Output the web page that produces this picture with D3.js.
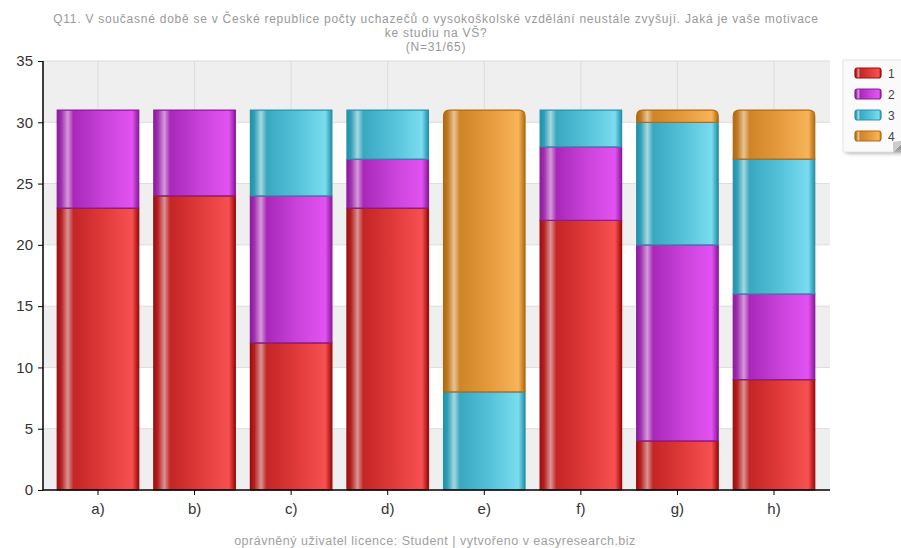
<!DOCTYPE html>
<html><head><meta charset="utf-8">
<script src="https://cdn.jsdelivr.net/npm/d3@7"></script>
<style>body{margin:0;background:#fff}svg{display:block;font-family:Arial,"Liberation Sans",sans-serif}</style>
</head><body>
<svg id="c" width="901" height="548"></svg>
<script>
const titleLines = ["Q11. V současné době se v České republice počty uchazečů o vysokoškolské vzdělání neustále zvyšují. Jaká je vaše motivace","ke studiu na VŠ?","(N=31/65)"];
const footer = "oprávněný uživatel licence: Student | vytvořeno v easyresearch.biz";
const categories = ["a)","b)","c)","d)","e)","f)","g)","h)"];
const seriesNames = ["1","2","3","4"];
const s1 = [23,24,12,23,0,22,4,9];
const s2 = [8,7,12,4,0,6,16,7];
const s3 = [0,0,7,4,8,3,10,11];
const s4 = [0,0,0,0,23,0,1,4];
const yTicks = [0,5,10,15,20,25,30,35];

const palettes = [
  {stops:["#9e1010","#b82020","#d89494","#c42525","#e23c3c","#f65050","#a00808"], stroke:"#9a0c0c"},
  {stops:["#8a1c9a","#a030b0","#d49ad8","#a828b8","#cc44dc","#e252f2","#8a1a9a"], stroke:"#8a1a9a"},
  {stops:["#2090a8","#30a0b8","#a8d8e0","#38a8c0","#58c4dc","#7adcee","#2090a8"], stroke:"#2a92aa"},
  {stops:["#b06810","#c07a20","#e8c498","#d08428","#e89c40","#f8b458","#b06a10"], stroke:"#b06c14"}
];
const offs = ["0%","5%","13%","20%","60%","92%","100%"];

const svg = d3.select("#c");
const defs = svg.append("defs");
palettes.forEach((p,i)=>{
  const g = defs.append("linearGradient").attr("id","g"+i).attr("x1","0").attr("x2","1").attr("y1","0").attr("y2","0");
  p.stops.forEach((c,j)=>g.append("stop").attr("offset",offs[j]).attr("stop-color",c));
});
const f = defs.append("filter").attr("id","sh").attr("x","-20%").attr("y","-20%").attr("width","150%").attr("height","150%");
f.append("feGaussianBlur").attr("stdDeviation",2);

const pL=43, pR=830, pT=61, pB=490;
const y = d3.scaleLinear().domain([0,35]).range([pB,pT]);
const x = d3.scaleBand().domain(categories).range([49.7,822.3]).paddingInner(0.156).paddingOuter(0.078);

// background bands
for(let i=0;i<yTicks.length-1;i++){
  svg.append("rect").attr("x",pL).attr("width",pR-pL)
    .attr("y",y(yTicks[i+1])).attr("height",y(yTicks[i])-y(yTicks[i+1]))
    .attr("fill", i%2===0 ? "#efefef" : "#ffffff");
}
// grid
svg.append("g").selectAll("line").data(yTicks.slice(1)).join("line")
  .attr("x1",pL).attr("x2",pR).attr("y1",d=>y(d)).attr("y2",d=>y(d))
  .attr("stroke","#dcdcdc").attr("stroke-width",1);
svg.append("g").selectAll("line").data(categories).join("line")
  .attr("x1",d=>x(d)+x.bandwidth()/2).attr("x2",d=>x(d)+x.bandwidth()/2)
  .attr("y1",pT).attr("y2",pB).attr("stroke","#dcdcdc");

// stack
const data = categories.map((c,i)=>({cat:c,"1":s1[i],"2":s2[i],"3":s3[i],"4":s4[i]}));
const stack = d3.stack().keys(seriesNames)(data);
const r = 6;
function segPath(x0,w,y0,y1,round){
  if(!round) return `M${x0},${y0}H${x0+w}V${y1}H${x0}Z`;
  return `M${x0},${y0}V${y1+r}Q${x0},${y1} ${x0+r},${y1}H${x0+w-r}Q${x0+w},${y1} ${x0+w},${y1+r}V${y0}Z`;
}
stack.forEach((layer,si)=>{
  svg.append("g").selectAll("path").data(layer.filter(d=>d[1]-d[0]>0)).join("path")
    .attr("d",d=>segPath(x(d.data.cat), x.bandwidth(), y(d[0]), y(d[1]), si===3))
    .attr("fill","url(#g"+si+")")
    .attr("stroke",palettes[si].stroke).attr("stroke-width",1.2);
});

// axes
const ya = svg.append("g").attr("transform",`translate(${pL},0)`)
  .call(d3.axisLeft(y).tickValues(yTicks).tickSize(5).tickPadding(5));
ya.select(".domain").attr("stroke","#000").attr("stroke-width",1.5).attr("d",`M0,${pT}V${pB}`);
ya.selectAll("text").attr("font-size",15).attr("fill","#333").attr("font-family","Arial,'Liberation Sans',sans-serif");
const xa = svg.append("g").attr("transform",`translate(0,${pB})`)
  .call(d3.axisBottom(x).tickSize(5).tickPadding(8));
xa.select(".domain").attr("stroke","#000").attr("stroke-width",1.5).attr("d",`M${pL},0H${pR}`);
xa.selectAll("text").attr("font-size",15).attr("fill","#333").attr("font-family","Arial,'Liberation Sans',sans-serif");

// title
svg.append("g").selectAll("text").data(titleLines).join("text")
  .attr("x",436).attr("y",(d,i)=>23+i*14).attr("text-anchor","middle")
  .attr("font-size",12).attr("letter-spacing",0.75).attr("fill","#999").text(d=>d);
svg.append("text").attr("x",435).attr("y",545).attr("text-anchor","middle")
  .attr("font-size",12.5).attr("letter-spacing",0.5).attr("fill","#a0a0a0").text(footer);

// legend
const lg = svg.append("g");
lg.append("rect").attr("x",846).attr("y",63).attr("width",70).attr("height",90).attr("fill","#999").attr("filter","url(#sh)");
lg.append("path").attr("d","M843,60H905V140L893,152H843Z").attr("fill","#fafafa").attr("stroke","#e4e4e4");
lg.append("path").attr("d","M893,152L893,142L905,140Z").attr("fill","#ccc");
seriesNames.forEach((s,i)=>{
  lg.append("rect").attr("x",855).attr("y",68+i*21).attr("width",26).attr("height",10).attr("rx",2.5)
    .attr("fill","url(#g"+i+")").attr("stroke",palettes[i].stroke).attr("stroke-width",1.2);
  lg.append("text").attr("x",888).attr("y",77.5+i*21).attr("font-size",12).attr("fill","#444").text(s);
});
</script>
</body></html>
